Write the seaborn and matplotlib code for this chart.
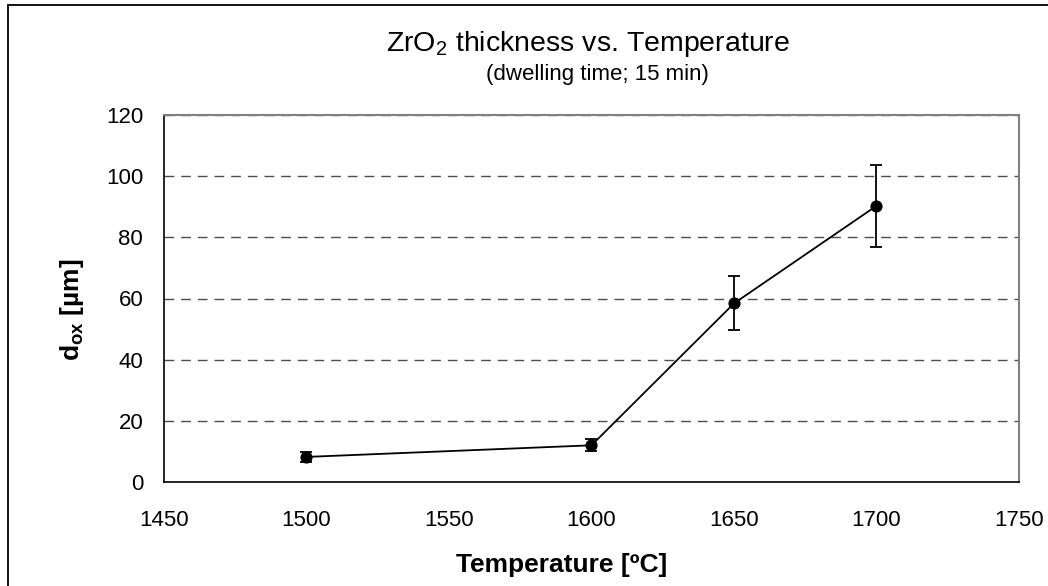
import matplotlib
matplotlib.use("Agg")
import matplotlib.pyplot as plt
import seaborn as sns
import pandas as pd
from matplotlib.patches import Rectangle

temperature = [1500, 1600, 1650, 1700]
thickness = [8.2, 12.0, 58.4, 90.3]
thickness_err = [1.5, 2.0, 8.8, 13.4]
x_ticks = [1450, 1500, 1550, 1600, 1650, 1700, 1750]
y_ticks = [0, 20, 40, 60, 80, 100, 120]

sns.set_theme(style="white")
plt.rcParams["font.family"] = ["Liberation Sans", "DejaVu Sans"]
plt.rcParams["mathtext.fontset"] = "custom"
plt.rcParams["mathtext.rm"] = "Liberation Sans"
plt.rcParams["mathtext.bf"] = "Liberation Sans:bold"
plt.rcParams["mathtext.default"] = "regular"

df = pd.DataFrame({"T": temperature, "d": thickness, "err": thickness_err})

fig = plt.figure(figsize=(10.48, 5.86), dpi=100)
fig.patch.set_facecolor("white")
ax = fig.add_axes([164/1048, 1-482/586, (1019-164)/1048, (482-115)/586])

for yv in y_ticks[1:]:
    ax.axhline(yv, color="#4d4d4d", lw=1.0, ls=(0, (7, 5)), zorder=0)

ax.errorbar(df["T"], df["d"], yerr=df["err"], fmt="none", ecolor="black",
            elinewidth=1.3, capsize=4.5, capthick=1.3, zorder=2)
sns.lineplot(data=df, x="T", y="d", ax=ax, color="black", lw=1.3,
             marker="o", markersize=8, markeredgecolor="black",
             markerfacecolor="black", zorder=3, legend=False)

ax.set_xlim(1450, 1750)
ax.set_ylim(0, 120)
ax.set_xticks(x_ticks)
ax.set_yticks(y_ticks)
ax.tick_params(axis="both", which="both", direction="out", length=5, width=1,
               color="black", labelsize=16, labelcolor="black")
ax.tick_params(axis="x", pad=15)
ax.tick_params(axis="y", pad=10)
ax.set_xlabel("")
ax.set_ylabel("")
ax.grid(False)

for s in ["left", "bottom"]:
    ax.spines[s].set_color("black")
    ax.spines[s].set_linewidth(1.2)
for s in ["top", "right"]:
    ax.spines[s].set_color("#808080")
    ax.spines[s].set_linewidth(1.5)

fig.text(588/1048, 1-50.7/586, r"ZrO$_2$ thickness vs. Temperature",
         ha="center", va="baseline", fontsize=20.5, color="black")
fig.text(597/1048, 1-80/586, "(dwelling time; 15 min)",
         ha="center", va="baseline", fontsize=16, color="black")
fig.text(562/1048, 1-571.7/586, "Temperature [ºC]", ha="center", va="baseline",
         fontsize=19, fontweight="bold", color="black")
fig.text(72/1048, 1-310/586, r"$\mathbf{d_{ox}}$ [µm]", ha="center", va="center",
         rotation=90, fontsize=19, fontweight="bold", color="black")

fig.add_artist(Rectangle((8/1048, -0.05), 1.2, 1-5/586+0.05, transform=fig.transFigure,
                         fill=False, edgecolor="black", lw=1.3))

fig.savefig("out.png", dpi=100)
